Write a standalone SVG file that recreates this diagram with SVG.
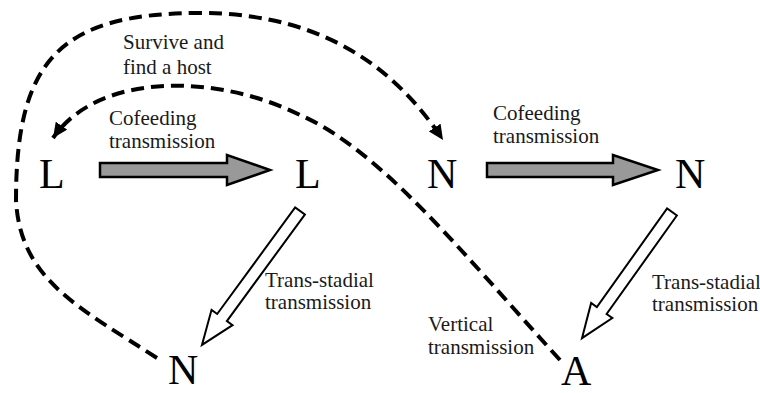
<svg xmlns="http://www.w3.org/2000/svg" width="760" height="393" viewBox="0 0 760 393">
  <defs>
    <style>
      .stage { font-family: "Liberation Serif", "Times New Roman", serif; font-size: 42px; fill: #000; }
      .lbl { font-family: "Liberation Serif", "Times New Roman", serif; font-size: 21px; fill: #1a1a1a; }
      .cofeed { fill: #999999; stroke: #000; stroke-width: 2.5; stroke-linejoin: miter; }
      .trans { fill: #fff; stroke: #000; stroke-width: 2; stroke-linejoin: miter; }
      .dash { fill: none; stroke: #000; stroke-width: 4; stroke-dasharray: 13 7; }
    </style>
    <marker id="head" markerUnits="userSpaceOnUse" markerWidth="16" markerHeight="14" refX="15" refY="7" orient="auto">
      <path d="M0,0 L15,7 L0,14 z" fill="#000"/>
    </marker>
  </defs>

  <rect width="760" height="393" fill="#fff"/>

  <!-- life stages -->
  <g id="node-larva-1"><text class="stage" x="39" y="188">L</text></g>
  <g id="node-larva-2"><text class="stage" x="295" y="188">L</text></g>
  <g id="node-nymph-1"><text class="stage" x="427" y="188">N</text></g>
  <g id="node-nymph-2"><text class="stage" x="675" y="188">N</text></g>
  <g id="node-nymph-3"><text class="stage" x="168" y="384">N</text></g>
  <g id="node-adult"><text class="stage" x="561" y="385">A</text></g>

  <g id="connectors">
    <!-- cofeeding transmission (grey block arrows) -->
    <polygon class="cofeed" points="100,163 227,163 227,155 270,170 227,185 227,177 100,177"/>
    <polygon class="cofeed" points="487,163 613,163 613,155 658,170 613,185 613,177 487,177"/>

    <!-- trans-stadial transmission (hollow block arrows) -->
    <polygon class="trans" transform="translate(300,211) rotate(126.2)" points="0,-6 132,-6 132,-13 166,0 132,13 132,6 0,6"/>
    <polygon class="trans" transform="translate(672,212) rotate(125.5)" points="0,-6 121,-6 121,-13 155,0 121,13 121,6 0,6"/>

    <!-- survive and find a host: N back round to N -->
    <path class="dash" marker-end="url(#head)" d="M157,358 C80,308 20,280 16,200 C16,60 60,13 200,13 C330,13 400,75 443,140"/>

    <!-- vertical transmission: A back to L -->
    <path class="dash" marker-end="url(#head)" d="M560,360 C460,250 380,150 300,115 C220,75 100,70 53,138"/>
  </g>

  <!-- labels -->
  <g id="labels">
    <text class="lbl" x="123" y="49">Survive and</text>
    <text class="lbl" x="123" y="74">find a host</text>
    <text class="lbl" x="109" y="125">Cofeeding</text>
    <text class="lbl" x="109" y="148">transmission</text>
    <text class="lbl" x="493" y="120">Cofeeding</text>
    <text class="lbl" x="493" y="143">transmission</text>
    <text class="lbl" x="265" y="287">Trans-stadial</text>
    <text class="lbl" x="265" y="309">transmission</text>
    <text class="lbl" x="652" y="289">Trans-stadial</text>
    <text class="lbl" x="652" y="311">transmission</text>
    <text class="lbl" x="428" y="331">Vertical</text>
    <text class="lbl" x="428" y="354">transmission</text>
  </g>
</svg>
